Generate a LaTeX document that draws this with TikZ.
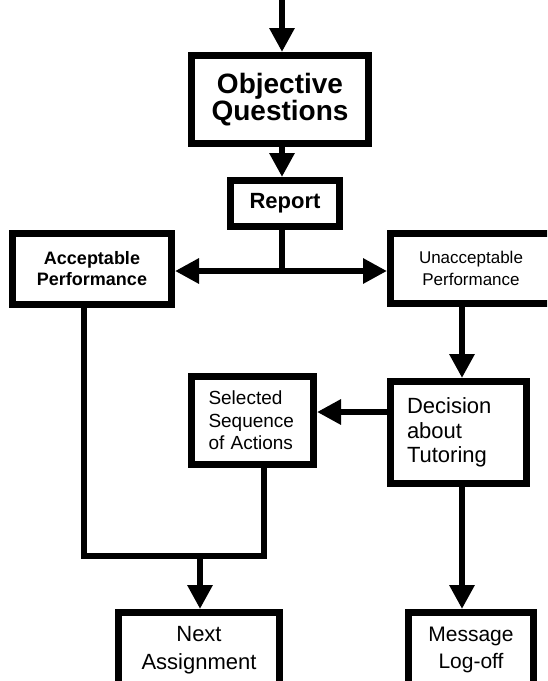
\documentclass[tikz,border=0pt]{standalone}
\usepackage{fontspec}
\setmainfont{Liberation Sans}
\usetikzlibrary{arrows.meta}
\begin{document}
\begin{tikzpicture}[x=1pt,y=-1pt,
  box/.style={draw=black,line width=7pt,fill=white,rectangle,inner sep=0pt,align=center,line join=miter},
  conn/.style={draw=black,line width=6.5pt,line join=miter},
  arr/.style={conn,-{Triangle[length=24pt,width=24pt]}}]
\clip (0,0) rectangle (547,681);
\fill[white] (0,0) rectangle (547,681);
% boxes
\node[box,minimum width=177pt,minimum height=88pt,font=\fontsize{28}{27}\selectfont\bfseries] (oq) at (280,99.5) {Objective\\Questions};
\node[box,minimum width=109pt,minimum height=46pt,font=\fontsize{22}{24}\selectfont\bfseries] (rep) at (285,203.5) {Report};
\node[box,minimum width=159pt,minimum height=71pt,font=\fontsize{18}{21}\selectfont\bfseries] (acc) at (92,269) {Acceptable\\Performance};
\node[box,minimum width=161pt,minimum height=70pt,font=\fontsize{17}{22}\selectfont] (unacc) at (471,268.5) {Unacceptable\\Performance};
\node[box,minimum width=122pt,minimum height=88pt,text width=88pt,inner xsep=17pt,align=left,font=\fontsize{19}{22.5}\selectfont] (sel) at (252.5,420.5) {Selected\\Sequence\\of Actions};
\node[box,minimum width=136pt,minimum height=102pt,text width=103pt,inner xsep=16.5pt,align=left,font=\fontsize{22}{24.5}\selectfont] (dec) at (458.5,432.5) {Decision\\about\\Tutoring};
\node[box,minimum width=161pt,minimum height=75pt,font=\fontsize{22}{28}\selectfont] (next) at (199,650) {Next\\Assignment};
\node[box,minimum width=125pt,minimum height=75pt,font=\fontsize{21}{27}\selectfont] (msg) at (471,650) {Message\\Log-off};
% coordinates
\coordinate (top) at (282,-5);
\coordinate (j) at (282,271);
\coordinate (ux) at (462,0);
\coordinate (dsy) at (0,412);
\coordinate (la) at (84,556);
\coordinate (lb) at (264,556);
\coordinate (lc) at (200,556);
% connectors
\draw[arr] (top) -- (top |- oq.north);
\draw[arr] (oq.south -| top) -- (rep.north -| top);
\draw[conn] (rep.south -| j) -- (j);
\draw[arr] (j) -- (j -| acc.east);
\draw[arr] (j) -- (j -| unacc.west);
\draw[arr] (unacc.south -| ux) -- (dec.north -| ux);
\draw[arr] (dec.west |- dsy) -- (sel.east |- dsy);
\draw[arr] (dec.south -| ux) -- (msg.north -| ux);
\draw[conn] (acc.south -| la) -- (la) -- (lb) -- (sel.south -| lb);
\draw[arr] (lc) -- (lc |- next.north);
\end{tikzpicture}
\end{document}
